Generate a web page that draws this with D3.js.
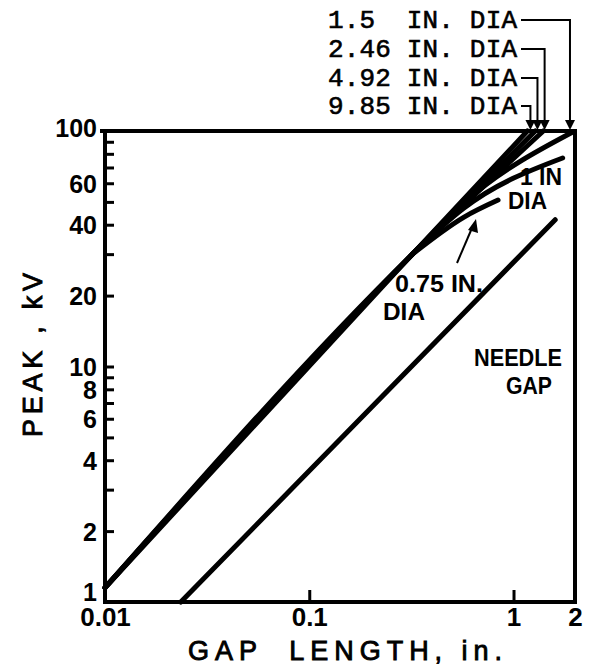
<!DOCTYPE html>
<html>
<head>
<meta charset="utf-8">
<script src="https://cdn.jsdelivr.net/npm/d3@7"></script>
<style>
  body { margin: 0; background: #fff; }
  svg { display: block; }
</style>
</head>
<body>
<svg id="chart" width="590" height="669"></svg>
<script>
// Axis ticks
const gapTickValues = [0.01, 0.1, 1, 2];
const gapTickLabels = ["0.01", "0.1", "1", "2"];
const kvTickValues = [1, 2, 3, 4, 5, 6, 7, 8, 9, 10, 20, 30, 40, 50, 60, 70, 80, 90, 100];
const kvLabelValues = [1, 2, 4, 6, 8, 10, 20, 40, 60, 100];

// Sphere-gap breakdown curves (gap length in inches, peak kV)
const sphere985Gap = [0.01, 0.32, 1.17];
const sphere985Kv  = [1.15, 30, 100];
const sphere492Gap = [0.01, 0.32, 1.28];
const sphere492Kv  = [1.15, 30, 100];
const sphere246Gap = [0.01, 0.32, 1.40];
const sphere246Kv  = [1.15, 30, 100];
const sphere15Gap  = [0.01, 0.32, 0.57, 1.95];
const sphere15Kv   = [1.15, 30, 49.5, 99];
const sphere1Gap   = [0.32, 0.57, 1.74];
const sphere1Kv    = [30, 47, 76.8];
const sphere075Gap = [0.32, 0.57, 0.84];
const sphere075Kv  = [30, 43, 50.9];

// Needle-gap breakdown line
const needleGap = [0.0235, 1.6];
const needleKv  = [1, 42];

// Diameter callouts at the top of the frame
const diaLabels = ["1.5  IN. DIA", "2.46 IN. DIA", "4.92 IN. DIA", "9.85 IN. DIA"];
const diaArrowGap = [1.89, 1.42, 1.31, 1.21];

const svg = d3.select("#chart");
const x = d3.scaleLog().domain([0.01, 2]).range([105, 575]);
const y = d3.scaleLog().domain([1, 100]).range([602, 131]);

const sans = "'Liberation Sans', Arial, sans-serif";

// Frame
svg.append("rect")
  .attr("x", x(0.01)).attr("y", y(100))
  .attr("width", x(2) - x(0.01)).attr("height", y(1) - y(100))
  .attr("fill", "none").attr("stroke", "#000").attr("stroke-width", 4);
svg.append("line")
  .attr("x1", 100).attr("x2", x(0.01)).attr("y1", y(100)).attr("y2", y(100))
  .attr("stroke", "#000").attr("stroke-width", 4);

// Y axis (ticks pointing inward)
const yAxis = d3.axisLeft(y)
  .tickValues(kvTickValues)
  .tickSize(-9)
  .tickPadding(8)
  .tickFormat(d => kvLabelValues.includes(d) ? String(d) : "");
const gy = svg.append("g").attr("transform", `translate(${x(0.01)},0)`).call(yAxis);
gy.select(".domain").remove();
gy.selectAll(".tick line").attr("stroke", "#000").attr("stroke-width", 3);
gy.selectAll(".tick text")
  .attr("font-family", sans).attr("font-weight", "bold").attr("font-size", 25)
  .attr("fill", "#000")
  .attr("dy", d => d === 1 ? "-0.05em" : (d === 100 ? "0.22em" : "0.36em"));

// X axis (ticks pointing inward)
const xAxis = d3.axisBottom(x)
  .tickValues(gapTickValues)
  .tickSize(-12)
  .tickPadding(6)
  .tickFormat((d, i) => gapTickLabels[i]);
const gx = svg.append("g").attr("transform", `translate(0,${y(1)})`).call(xAxis);
gx.select(".domain").remove();
gx.selectAll(".tick line").attr("stroke", "#000").attr("stroke-width", 3);
gx.selectAll(".tick text")
  .attr("font-family", sans).attr("font-weight", "bold").attr("font-size", 26)
  .attr("fill", "#000");

// Axis titles
svg.append("text")
  .attr("x", 345).attr("y", 660)
  .attr("text-anchor", "middle")
  .attr("font-family", sans).attr("font-size", 27)
  .attr("stroke", "#000").attr("stroke-width", 0.9)
  .attr("textLength", 314).attr("lengthAdjust", "spacing")
  .style("white-space", "pre")
  .text("GAP  LENGTH, in.");
svg.append("text")
  .attr("transform", "translate(42,355) rotate(-90)")
  .attr("text-anchor", "middle")
  .attr("font-family", sans).attr("font-size", 27)
  .attr("stroke", "#000").attr("stroke-width", 0.9)
  .attr("textLength", 164).attr("lengthAdjust", "spacing")
  .style("white-space", "pre")
  .text("PEAK , kV");

// Curves
const line = d3.line()
  .x(d => x(d[0]))
  .y(d => y(d[1]))
  .curve(d3.curveMonotoneX);

const curves = [
  [sphere985Gap, sphere985Kv],
  [sphere492Gap, sphere492Kv],
  [sphere246Gap, sphere246Kv],
  [sphere15Gap, sphere15Kv],
  [sphere1Gap, sphere1Kv],
  [sphere075Gap, sphere075Kv],
  [needleGap, needleKv]
];
svg.append("g").selectAll("path")
  .data(curves)
  .join("path")
  .attr("d", ([g, v]) => line(g.map((gv, i) => [gv, v[i]])))
  .attr("fill", "none")
  .attr("stroke", "#000")
  .attr("stroke-width", 5)
  .attr("stroke-linecap", "round");

// Diameter callouts with leader arrows
const legendY = [28, 57, 86, 114];
const callouts = svg.append("g");
diaLabels.forEach((t, i) => {
  callouts.append("text")
    .attr("x", 328).attr("y", legendY[i])
    .attr("font-family", "'Liberation Mono', 'DejaVu Sans Mono', monospace")
    .attr("font-size", 26)
    .attr("stroke", "#000").attr("stroke-width", 0.6)
    .attr("textLength", 189).attr("lengthAdjust", "spacing")
    .style("white-space", "pre")
    .text(t);
  const ax = x(diaArrowGap[i]);
  const ly = legendY[i] - 8;
  callouts.append("path")
    .attr("d", `M${521},${ly}H${ax}V${y(100) - 9}`)
    .attr("fill", "none").attr("stroke", "#000").attr("stroke-width", 2);
  callouts.append("path")
    .attr("d", `M${ax - 5},${y(100) - 11}L${ax + 5},${y(100) - 11}L${ax},${y(100) - 1}Z`)
    .attr("fill", "#000");
});

// In-plot labels
function label(tx, ty, str, len) {
  svg.append("text")
    .attr("x", tx).attr("y", ty)
    .attr("font-family", sans).attr("font-weight", "bold").attr("font-size", 24)
    .attr("textLength", len).attr("lengthAdjust", "spacingAndGlyphs")
    .style("white-space", "pre")
    .text(str);
}
label(520, 185, "1 IN", 42);
label(508, 209, "DIA", 39);
label(395, 292, "0.75 IN.", 88);
label(383, 320, "DIA", 42);
label(474, 366, "NEEDLE", 88);
label(506, 394, "GAP", 46);

// Arrow pointing at the 0.75 in. curve
svg.append("line")
  .attr("x1", 457).attr("y1", 263).attr("x2", 472).attr("y2", 228)
  .attr("stroke", "#000").attr("stroke-width", 2);
svg.append("path")
  .attr("d", "M468,230L478,233L476,219Z")
  .attr("fill", "#000");
</script>
</body>
</html>
